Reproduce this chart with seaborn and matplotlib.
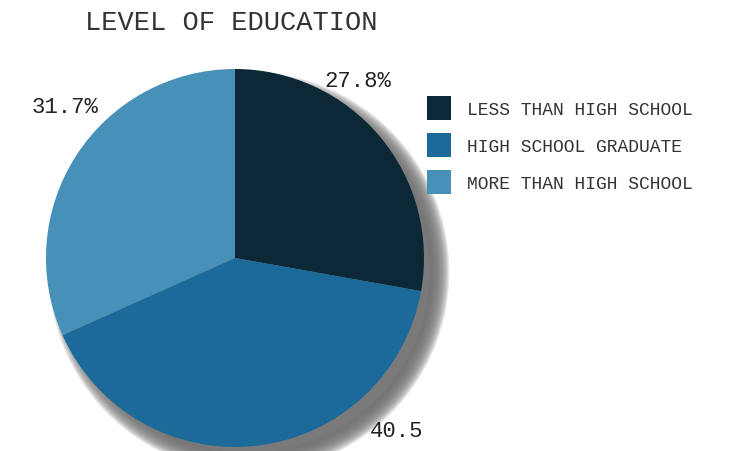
import matplotlib
matplotlib.use("Agg")
import matplotlib.pyplot as plt
import seaborn as sns
from matplotlib.patches import Circle, Patch

categories = ["LESS THAN HIGH SCHOOL", "HIGH SCHOOL GRADUATE", "MORE THAN HIGH SCHOOL"]
values = [27.8, 40.5, 31.7]
value_labels = ["27.8%", "40.5", "31.7%"]
colors = ["#0c2735", "#1b6a99", "#4790b8"]
title = "LEVEL OF EDUCATION"

sns.set_theme(style="white")
FONT = ["Liberation Mono", "DejaVu Sans Mono"]
plt.rcParams["font.family"] = FONT
palette = sns.color_palette(colors)

W, H = 741, 452
fig = plt.figure(figsize=(W / 100, H / 100), dpi=100)
fig.patch.set_facecolor("white")

# pie axes: center (235,259), radius 189 px
cx, cy, r = 235, 259, 189
ax = fig.add_axes([(cx - r) / W, (H - cy - r) / H, 2 * r / W, 2 * r / H])

# soft drop shadow (offset down-right, blurred edge)
off = (0.075, -0.075)
n = 24
r_in, r_out = 0.955, 1.06
for i in range(n):
    rad = r_out - (r_out - r_in) * i / (n - 1)
    ax.add_patch(Circle(off, rad, facecolor="#747474", edgecolor="none",
                        alpha=0.13, zorder=0, clip_on=False))
ax.add_patch(Circle(off, r_in, facecolor="#7a7a7a", edgecolor="none",
                    zorder=1, clip_on=False))

wedges, _ = ax.pie(values, colors=palette, startangle=90, counterclock=False,
                   radius=1.0, center=(0, 0), frame=True,
                   wedgeprops=dict(linewidth=0))
for w in wedges:
    w.set_zorder(2)
ax.set_xlim(-1, 1)
ax.set_ylim(-1, 1)
ax.set_aspect("equal")
ax.axis("off")

label_pos = [(0.65, 0.94), (0.857, -0.915), (-0.90, 0.80)]
for (x, y), t in zip(label_pos, value_labels):
    ax.text(x, y, t, ha="center", va="center", fontsize=16, color="#222222",
            family=FONT, zorder=5, clip_on=False)

fig.text(85 / W, 1 - 30 / H, title, ha="left", va="baseline", fontsize=19.5,
         color="#333333", family=FONT)

handles = [Patch(facecolor=c, edgecolor="none") for c in palette]
leg = fig.legend(handles, categories, loc="upper left",
                 bbox_to_anchor=(427 / W, 1 - 97 / H), frameon=False,
                 borderpad=0, borderaxespad=0,
                 handlelength=1.33, handleheight=1.69, handletextpad=0.89,
                 labelspacing=0.7, prop=dict(family=FONT, size=13))
for t in leg.get_texts():
    t.set_color("#333333")

fig.savefig("out.png", dpi=100, facecolor="white")
